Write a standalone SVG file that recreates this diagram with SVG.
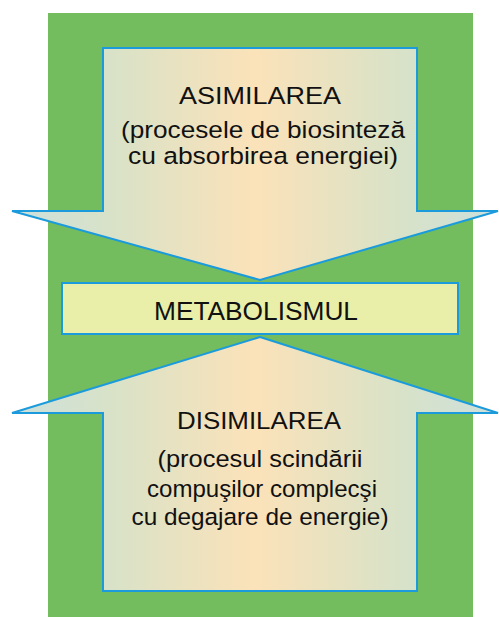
<svg xmlns="http://www.w3.org/2000/svg" width="499" height="617" viewBox="0 0 499 617">
<defs>
<linearGradient id="g" gradientUnits="userSpaceOnUse" x1="12" y1="0" x2="498" y2="0">
<stop offset="0" stop-color="#cde0dc"/>
<stop offset="0.2" stop-color="#d8e2c8"/>
<stop offset="0.5" stop-color="#fbe2b9"/>
<stop offset="0.8" stop-color="#d8e2c8"/>
<stop offset="1" stop-color="#cde0dc"/>
</linearGradient>
</defs>
<style>
.arrow{fill:url(#g);stroke:#1b9bdb;stroke-width:2;stroke-linejoin:miter}
.t{font-family:"Liberation Sans",Arial,sans-serif;font-size:24.5px;fill:#111;text-anchor:middle}
</style>
<rect x="48" y="13" width="425" height="604" fill="#73bd5f"/>
<g id="asimilarea">
<polygon class="arrow" points="103,48 417,48 417,211 498,211 260,280 12,211 103,211"/>
<text class="t" x="260" y="104" textLength="162" lengthAdjust="spacingAndGlyphs">ASIMILAREA</text>
<text class="t" x="263" y="138" textLength="284" lengthAdjust="spacingAndGlyphs">(procesele de biosinteză</text>
<text class="t" x="263" y="164" textLength="270" lengthAdjust="spacingAndGlyphs">cu absorbirea energiei)</text>
</g>
<g id="disimilarea">
<polygon class="arrow" points="260,337 498,413 417,413 417,591 103,591 103,413 12,413"/>
<text class="t" x="259" y="429" textLength="164" lengthAdjust="spacingAndGlyphs">DISIMILAREA</text>
<text class="t" x="260" y="467" textLength="205" lengthAdjust="spacingAndGlyphs">(procesul scindării</text>
<text class="t" x="262" y="497" textLength="230" lengthAdjust="spacingAndGlyphs">compuşilor complecşi</text>
<text class="t" x="260" y="525" textLength="257" lengthAdjust="spacingAndGlyphs">cu degajare de energie)</text>
</g>
<g id="metabolismul">
<rect x="62" y="283" width="396" height="51" fill="#e9efa9" stroke="#1b9bdb" stroke-width="2"/>
<text class="t" x="256" y="320" style="font-size:25px" textLength="204" lengthAdjust="spacingAndGlyphs">METABOLISMUL</text>
</g>
<g id="connectors"/>
</svg>
